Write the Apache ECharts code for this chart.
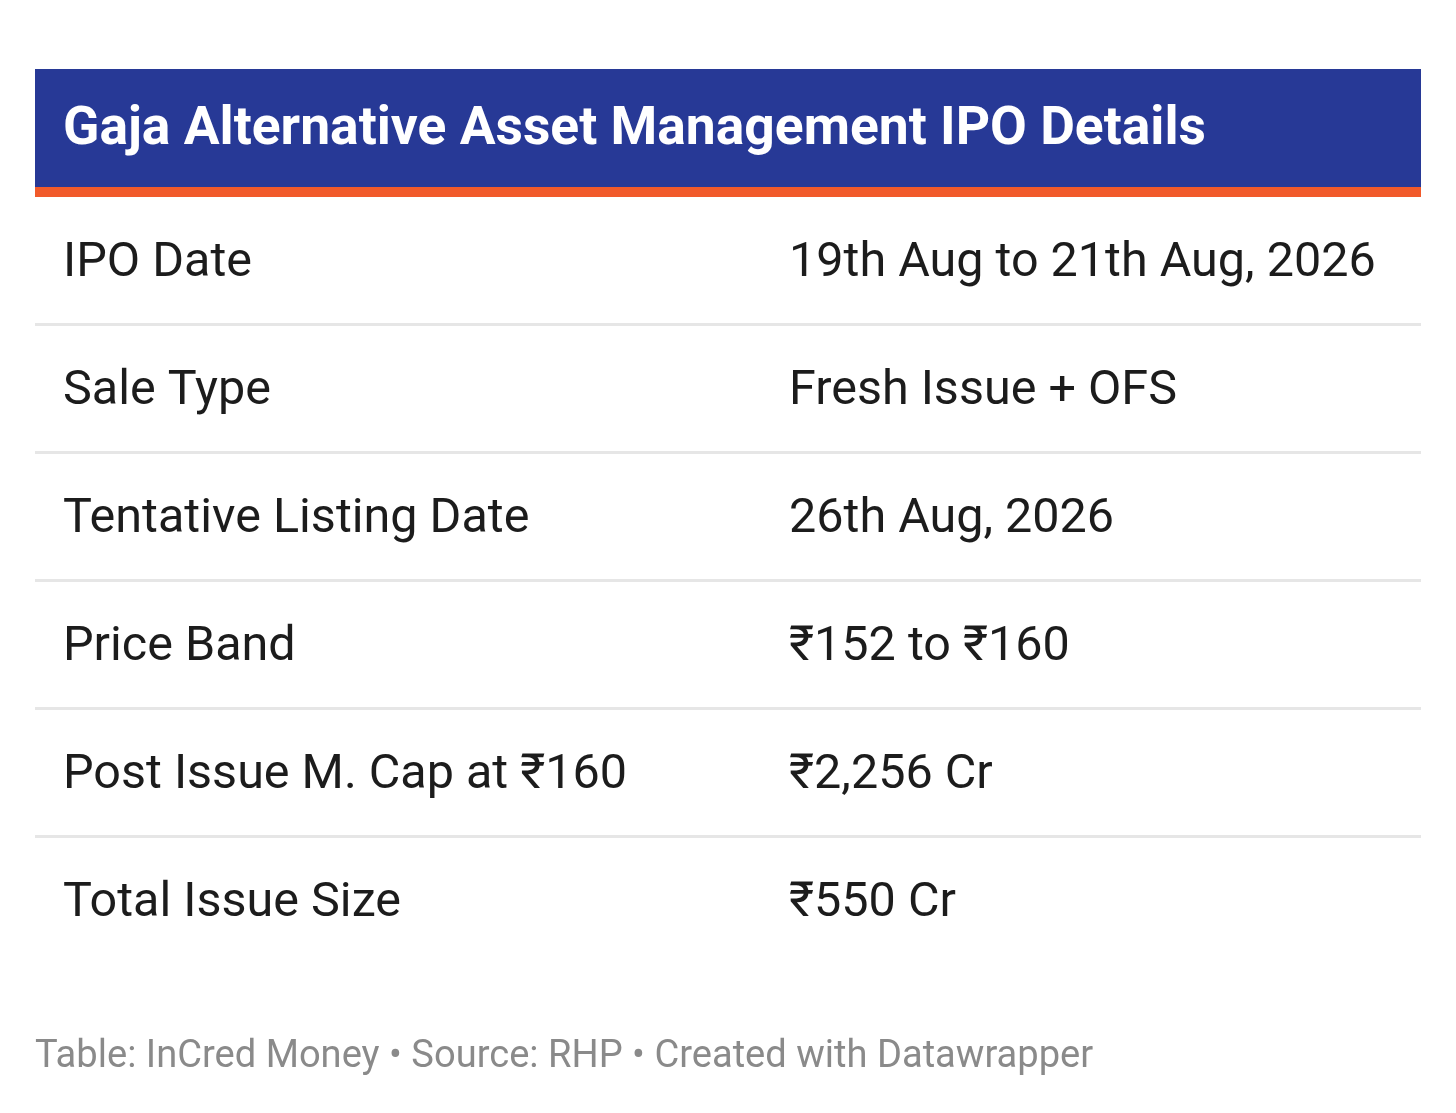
<!DOCTYPE html>
<html>
<head>
<meta charset="utf-8">
<script src="https://cdn.jsdelivr.net/npm/echarts@6/dist/echarts.min.js"></script>
<style>
html,body{margin:0;padding:0;background:#fff;}
#c{width:1456px;height:1113px;}
</style>
</head>
<body>
<div id="c"></div>
<script>
const titleText = 'Gaja Alternative Asset Management IPO Details';
const rowLabels = ['IPO Date', 'Sale Type', 'Tentative Listing Date', 'Price Band', 'Post Issue M. Cap at ₹160', 'Total Issue Size'];
const rowValues = ['19th Aug to 21th Aug, 2026', 'Fresh Issue + OFS', '26th Aug, 2026', '₹152 to ₹160', '₹2,256 Cr', '₹550 Cr'];
const footerText = 'Table: InCred Money • Source: RHP • Created with Datawrapper';

const FONT = 'Roboto, "Noto Sans", sans-serif';
const chart = echarts.init(document.getElementById('c'), null, {renderer: 'canvas'});

const data = rowLabels.map((l, i) => [0, i, l, rowValues[i]]);

chart.setOption({
  animation: false,
  backgroundColor: '#ffffff',
  grid: {left: 35, right: 35, top: 197, height: 768},
  xAxis: {type: 'value', min: 0, max: 1, show: false},
  yAxis: {type: 'category', data: rowLabels.map((_, i) => i), inverse: true, show: false},
  graphic: [
    {type: 'rect', shape: {x: 35, y: 69, width: 1386, height: 119}, style: {fill: '#273996'}},
    {type: 'rect', shape: {x: 35, y: 187, width: 1386, height: 10}, style: {fill: '#F15A2B'}},
    {type: 'text', x: 63, y: 131, style: {text: titleText, fill: '#ffffff', font: 'bold 53.4px ' + FONT, verticalAlign: 'middle'}},
    {type: 'text', x: 35, y: 1057, style: {text: footerText, fill: '#8a8a8a', font: '38.1px ' + FONT, verticalAlign: 'middle'}}
  ],
  series: [{
    type: 'custom',
    data: data,
    renderItem: function (params, api) {
      const i = api.value(1);
      const p = api.coord([0, i]);
      const band = api.size([0, 1])[1];
      const cs = params.coordSys;
      const children = [
        {type: 'text', x: cs.x + 28, y: p[1] + 3, style: {text: rowLabels[i], fill: '#1c1c1c', font: '48.5px ' + FONT, textAlign: 'left', verticalAlign: 'middle'}},
        {type: 'text', x: 789, y: p[1] + 3, style: {text: rowValues[i], fill: '#1c1c1c', font: '48.5px ' + FONT, textAlign: 'left', verticalAlign: 'middle'}}
      ];
      if (i < rowLabels.length - 1) {
        children.push({type: 'rect', shape: {x: cs.x, y: p[1] + band / 2 - 2, width: cs.width, height: 3}, style: {fill: '#e6e6e6'}});
      }
      return {type: 'group', children: children};
    }
  }]
});
</script>
</body>
</html>
